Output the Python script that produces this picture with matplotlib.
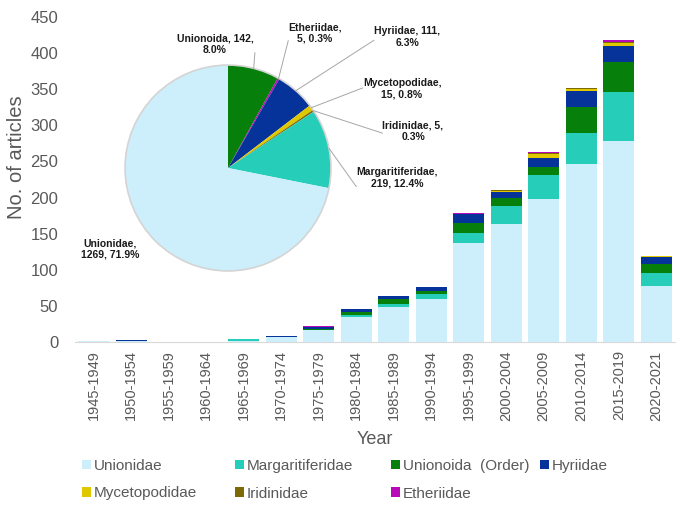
"""Stacked bars of freshwater mussel articles per period, with family share pie inset."""

import numpy as np
import matplotlib
matplotlib.use("Agg")
import matplotlib.pyplot as plt

plt.rcParams["font.family"] = ["Liberation Sans", "DejaVu Sans"]

periods = [
    "1945-1949", "1950-1954", "1955-1959", "1960-1964", "1965-1969", "1970-1974",
    "1975-1979", "1980-1984", "1985-1989", "1990-1994", "1995-1999", "2000-2004",
    "2005-2009", "2010-2014", "2015-2019", "2020-2021",
]
unionidae = [1, 1, 0, 0, 2, 7, 16, 34, 49, 60, 137, 163, 198, 246, 278, 77]
margaritiferidae = [0, 0, 0, 0, 2, 0, 1, 3, 3, 7, 14, 25, 33, 44, 68, 19]
unionoida = [0, 0, 0, 0, 0, 0, 1, 4, 7, 3, 14, 12, 12, 35, 42, 12]
hyriidae = [1, 2, 0, 0, 0, 2, 3, 5, 5, 6, 12, 8, 12, 23, 22, 10]
mycetopodidae = [0, 0, 0, 0, 0, 0, 0, 0, 0, 0, 0, 1, 6, 3, 4, 1]
iridinidae = [0, 0, 0, 0, 0, 0, 0, 0, 0, 0, 0, 1, 1, 1, 2, 0]
etheriidae = [0, 0, 0, 0, 0, 0, 1, 0, 0, 0, 1, 0, 1, 0, 2, 0]

families = [
    ("Unionidae", unionidae, "#cdeffc"),
    ("Margaritiferidae", margaritiferidae, "#26cdb8"),
    ("Unionoida  (Order)", unionoida, "#07800b"),
    ("Hyriidae", hyriidae, "#05339a"),
    ("Mycetopodidae", mycetopodidae, "#e0c800"),
    ("Iridinidae", iridinidae, "#7d6a05"),
    ("Etheriidae", etheriidae, "#b80ab8"),
]

# pie: clockwise from 12 o'clock; label text, centre (image px), leader end on text box
pie_order = [
    ("Unionoida", 2, "Unionoida, {n},\n{p:.1f}%", (215, 44), (1.02, 0.1)),
    ("Etheriidae", 6, "Etheriidae,\n{n}, {p:.1f}%", (315, 33), (0.0, 0.15)),
    ("Hyriidae", 3, "Hyriidae, {n},\n{p:.1f}%", (407, 37), (0.0, 0.35)),
    ("Mycetopodidae", 4, "Mycetopodidae,\n{n}, {p:.1f}%", (402, 89), (0.0, 0.55)),
    ("Iridinidae", 5, "Iridinidae, {n},\n{p:.1f}%", (413, 131), (0.0, 0.4)),
    ("Margaritiferidae", 1, "Margaritiferidae,\n{n}, {p:.1f}%", (397, 178), (0.0, 0.1)),
    ("Unionidae", 0, "Unionidae,\n{n}, {p:.1f}%", (110, 249), None),
]

GRAY = "#595959"
W, H = 685, 520

fig = plt.figure(figsize=(W / 100, H / 100), dpi=100)
ax = fig.add_axes([75 / W, 1 - 342 / H, 600 / W, 325 / H])

x = np.arange(len(periods))
bottom = np.zeros(len(periods))
handles = []
for name, vals, color in families:
    vals = np.array(vals, dtype=float)
    b = ax.bar(x, vals, bottom=bottom, width=0.83, color=color, label=name, linewidth=0)
    handles.append(b)
    bottom += vals

ax.set_xlim(-0.5, len(periods) - 0.5)
ax.set_ylim(0, 450)
ax.set_yticks(range(0, 451, 50))
ax.set_xticks(x)
ax.set_xticklabels(periods, rotation=90, fontsize=10.5, color=GRAY)
ax.tick_params(axis="y", length=0, labelsize=12, labelcolor=GRAY, pad=12)
ax.tick_params(axis="x", length=0, pad=6)
for side in ("left", "right", "top"):
    ax.spines[side].set_visible(False)
ax.spines["bottom"].set_color("#d9d9d9")
ax.set_ylabel("No. of articles", fontsize=14.5, color=GRAY)
ax.yaxis.set_label_coords(-0.081, 0.57)
ax.set_xlabel("Year", fontsize=13, color=GRAY, labelpad=7)

# pie inset
R = 105
cx, cy = 228, 168
pax = fig.add_axes([(cx - R) / W, 1 - (cy + R) / H, 2 * R / W, 2 * R / H])
counts = [sum(families[i][1]) for _, i, _, _, _ in pie_order]
colors = [families[i][2] for _, i, _, _, _ in pie_order]
total = sum(counts)
wedges, _ = pax.pie(counts, colors=colors, startangle=90, counterclock=False,
                    radius=1, wedgeprops=dict(linewidth=0))
pax.add_patch(plt.Circle((0, 0), 1.0, fill=False, edgecolor="#d4d4d4", linewidth=1.2))
pax.set_xlim(-1.02, 1.02)
pax.set_ylim(-1.02, 1.02)

for w, n, (name, i, fmt, (tx, ty), rel) in zip(wedges, counts, pie_order):
    ang = np.deg2rad((w.theta1 + w.theta2) / 2)
    txt = fmt.format(n=n, p=100 * n / total)
    if rel is None:
        fig.text(tx / W, 1 - ty / H, txt, ha="center", va="center",
                 fontsize=7.5, fontweight="bold", color="#1a1a1a")
        continue
    pax.annotate(
        txt, xy=(np.cos(ang), np.sin(ang)), xycoords="data",
        xytext=(tx, H - ty), textcoords="figure pixels",
        ha="center", va="center", fontsize=7.5, fontweight="bold", color="#1a1a1a",
        arrowprops=dict(arrowstyle="-", color="#a6a6a6", lw=0.7, shrinkA=0, shrinkB=0,
                        relpos=rel, patchA=None),
        annotation_clip=False,
    )

# legend, filled row by row like the original; Hyriidae column sits closer
order = [0, 4, 1, 5, 2, 6]
leg_kw = dict(loc="upper left", frameon=False, fontsize=11, handlelength=0.6,
              handleheight=0.6, handletextpad=0.2, labelspacing=0.9, labelcolor=GRAY)
fig.legend([handles[k] for k in order], [families[k][0] for k in order], ncol=3,
           bbox_to_anchor=(68 / W, 1 - 445 / H), columnspacing=2.45, **leg_kw)
fig.legend([handles[3]], [families[3][0]], ncol=1,
           bbox_to_anchor=(526 / W, 1 - 445 / H), **leg_kw)

fig.savefig("out.png", dpi=100)
